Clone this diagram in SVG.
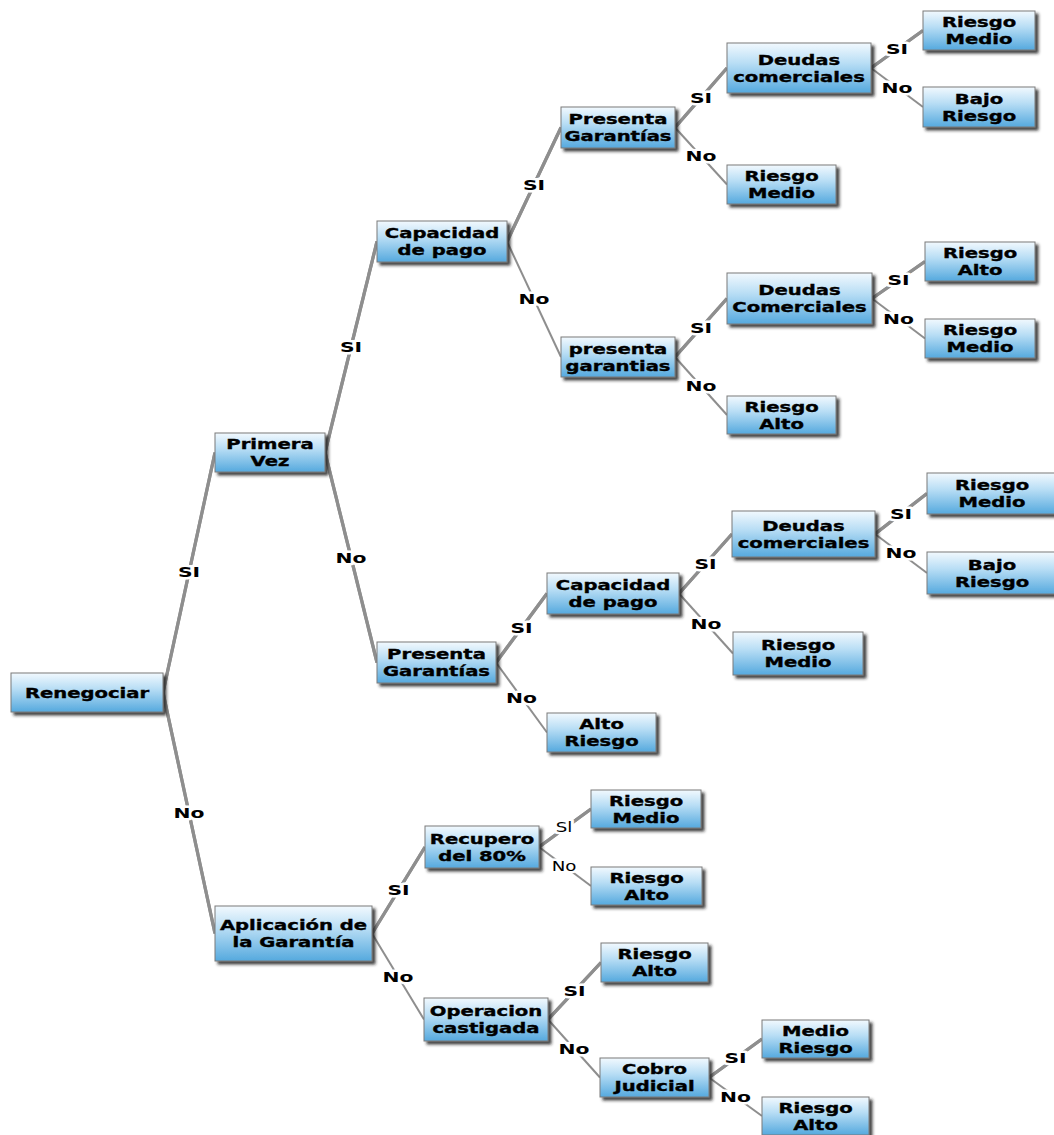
<svg xmlns="http://www.w3.org/2000/svg" xmlns:xlink="http://www.w3.org/1999/xlink" width="1054" height="1135" viewBox="0 0 1054 1135">
  <style>
    .node rect { fill: url(#boxFill); stroke: #7a7a7a; stroke-width: 1; filter: url(#shadow); }
    .node text, .lbl { font-family: "DejaVu Sans", Verdana, sans-serif; font-weight: bold; font-size: 14px; fill: #000; text-anchor: middle; }
    .node text { stroke: #000; stroke-width: 0.35px; }
    .lbl { paint-order: stroke; stroke: #fff; stroke-width: 5px; stroke-linejoin: round; }
    .lbl.reg { font-weight: normal; }
    .edge { fill: none; stroke: #8e8e8e; stroke-width: 3.2; }
    .edge-hl { fill: none; stroke: #ececec; stroke-width: 1; }
    .edge1 { fill: none; stroke: #8e8e8e; stroke-width: 2; }
  </style>
  <defs>
    <linearGradient id="boxFill" x1="0" y1="0" x2="0" y2="1">
      <stop offset="0" stop-color="#f2f9fe"/>
      <stop offset="0.4" stop-color="#b9def5"/>
      <stop offset="1" stop-color="#55a9de"/>
    </linearGradient>
    <filter id="shadow" x="-10%" y="-20%" width="130%" height="160%">
      <feDropShadow dx="3" dy="3" stdDeviation="1.5" flood-color="#222" flood-opacity="0.85"/>
    </filter>
  </defs>

  <rect width="1054" height="1135" fill="#fff"/>

  <!-- connectors: parent right edge middle to child left edge middle -->
  <g id="connectors">
    <!-- double (highlighted) links -->
    <g id="dbl">
      <path id="e1" class="edge" d="M163,692.5 L215,452.5"/>
      <path id="e2" class="edge" d="M163,692.5 L215,933.5"/>
      <path id="e3" class="edge" d="M325,452.5 L377,241.5"/>
      <path id="e4" class="edge" d="M325,452.5 L377,662.5"/>
      <path id="e5" class="edge" d="M507,241.5 L561,127.5"/>
      <path id="e7" class="edge" d="M675,127.5 L727,68"/>
      <path id="e9" class="edge" d="M871,68 L923,30.5"/>
      <path id="e11" class="edge" d="M675,357 L727,298.5"/>
      <path id="e13" class="edge" d="M872,298.5 L925,261.5"/>
      <path id="e15" class="edge" d="M496,662.5 L547,593.5"/>
      <path id="e17" class="edge" d="M679,593.5 L732,534"/>
      <path id="e19" class="edge" d="M875,534 L927,493.5"/>
      <path id="e21" class="edge" d="M372,933.5 L425,847"/>
      <path id="e23" class="edge" d="M539,847 L591,809"/>
      <path id="e25" class="edge" d="M548,1019.5 L601,962.5"/>
      <path id="e27" class="edge" d="M709,1077.5 L762,1039"/>
      <use xlink:href="#e1" class="edge-hl"/>
      <use xlink:href="#e2" class="edge-hl"/>
      <use xlink:href="#e3" class="edge-hl"/>
      <use xlink:href="#e4" class="edge-hl"/>
      <use xlink:href="#e5" class="edge-hl"/>
      <use xlink:href="#e7" class="edge-hl"/>
      <use xlink:href="#e9" class="edge-hl"/>
      <use xlink:href="#e11" class="edge-hl"/>
      <use xlink:href="#e13" class="edge-hl"/>
      <use xlink:href="#e15" class="edge-hl"/>
      <use xlink:href="#e17" class="edge-hl"/>
      <use xlink:href="#e19" class="edge-hl"/>
      <use xlink:href="#e21" class="edge-hl"/>
      <use xlink:href="#e23" class="edge-hl"/>
      <use xlink:href="#e25" class="edge-hl"/>
      <use xlink:href="#e27" class="edge-hl"/>
    </g>
    <!-- plain links -->
    <g id="sgl">
      <path class="edge1" d="M507,241.5 L561,357"/>
      <path class="edge1" d="M675,127.5 L727,184.5"/>
      <path class="edge1" d="M871,68 L923,107"/>
      <path class="edge1" d="M675,357 L727,415"/>
      <path class="edge1" d="M872,298.5 L925,338.5"/>
      <path class="edge1" d="M496,662.5 L547,732.5"/>
      <path class="edge1" d="M679,593.5 L733,653.5"/>
      <path class="edge1" d="M875,534 L927,573"/>
      <path class="edge1" d="M372,933.5 L424,1019.5"/>
      <path class="edge1" d="M539,847 L591,886"/>
      <path class="edge1" d="M548,1019.5 L600,1077.5"/>
      <path class="edge1" d="M709,1077.5 L762,1116"/>
    </g>
    <!-- link labels -->
    <g id="labels">
      <text class="lbl" transform="translate(189,577) scale(1.45,1)">SI</text>
      <text class="lbl" transform="translate(189,818) scale(1.45,1)">No</text>
      <text class="lbl" transform="translate(351,352) scale(1.45,1)">SI</text>
      <text class="lbl" transform="translate(351,562.5) scale(1.45,1)">No</text>
      <text class="lbl" transform="translate(534,189.5) scale(1.45,1)">SI</text>
      <text class="lbl" transform="translate(534,304) scale(1.45,1)">No</text>
      <text class="lbl" transform="translate(701,103) scale(1.45,1)">SI</text>
      <text class="lbl" transform="translate(701,161) scale(1.45,1)">No</text>
      <text class="lbl" transform="translate(897,54) scale(1.45,1)">SI</text>
      <text class="lbl" transform="translate(897,92.5) scale(1.45,1)">No</text>
      <text class="lbl" transform="translate(701,333) scale(1.45,1)">SI</text>
      <text class="lbl" transform="translate(701,391) scale(1.45,1)">No</text>
      <text class="lbl" transform="translate(898.5,285) scale(1.45,1)">SI</text>
      <text class="lbl" transform="translate(898.5,323.5) scale(1.45,1)">No</text>
      <text class="lbl" transform="translate(521.5,633) scale(1.45,1)">SI</text>
      <text class="lbl" transform="translate(521.5,702.5) scale(1.45,1)">No</text>
      <text class="lbl" transform="translate(705.5,569) scale(1.45,1)">SI</text>
      <text class="lbl" transform="translate(706,628.5) scale(1.45,1)">No</text>
      <text class="lbl" transform="translate(901,518.5) scale(1.45,1)">SI</text>
      <text class="lbl" transform="translate(901,558) scale(1.45,1)">No</text>
      <text class="lbl" transform="translate(398.5,895) scale(1.45,1)">SI</text>
      <text class="lbl" transform="translate(398,981.5) scale(1.45,1)">No</text>
      <text class="lbl reg" transform="translate(564,832) scale(1.3,1)">Sl</text>
      <text class="lbl reg" transform="translate(564,870.5) scale(1.3,1)">No</text>
      <text class="lbl" transform="translate(574.5,996) scale(1.45,1)">SI</text>
      <text class="lbl" transform="translate(574,1053.5) scale(1.45,1)">No</text>
      <text class="lbl" transform="translate(735.5,1063) scale(1.45,1)">SI</text>
      <text class="lbl" transform="translate(735.5,1102) scale(1.45,1)">No</text>
    </g>
  </g>

  <!-- nodes -->
  <g id="n1" class="node"><rect x="11" y="673" width="152" height="39"/>
    <text transform="translate(87,697.5) scale(1.4,1)">Renegociar</text></g>
  <g id="n2" class="node"><rect x="215" y="433" width="110" height="39"/>
    <text transform="translate(270,0) scale(1.4,1)"><tspan x="0" y="449.5">Primera</tspan><tspan x="0" y="466.5">Vez</tspan></text></g>
  <g id="n3" class="node"><rect x="377" y="221" width="130" height="41"/>
    <text transform="translate(442,0) scale(1.4,1)"><tspan x="0" y="238.5">Capacidad</tspan><tspan x="0" y="255.5">de pago</tspan></text></g>
  <g id="n4" class="node"><rect x="561" y="107" width="114" height="41"/>
    <text transform="translate(618,0) scale(1.4,1)"><tspan x="0" y="124.5">Presenta</tspan><tspan x="0" y="141.5">Garantías</tspan></text></g>
  <g id="n5" class="node"><rect x="727" y="43" width="144" height="50"/>
    <text transform="translate(799,0) scale(1.4,1)"><tspan x="0" y="65">Deudas</tspan><tspan x="0" y="82">comerciales</tspan></text></g>
  <g id="n6" class="node"><rect x="923" y="11" width="112" height="39"/>
    <text transform="translate(979,0) scale(1.4,1)"><tspan x="0" y="27.5">Riesgo</tspan><tspan x="0" y="44.5">Medio</tspan></text></g>
  <g id="n7" class="node"><rect x="923" y="87" width="112" height="40"/>
    <text transform="translate(979,0) scale(1.4,1)"><tspan x="0" y="104">Bajo</tspan><tspan x="0" y="121">Riesgo</tspan></text></g>
  <g id="n8" class="node"><rect x="727" y="165" width="109" height="39"/>
    <text transform="translate(781.5,0) scale(1.4,1)"><tspan x="0" y="181.5">Riesgo</tspan><tspan x="0" y="198.5">Medio</tspan></text></g>
  <g id="n9" class="node"><rect x="561" y="337" width="114" height="40"/>
    <text transform="translate(618,0) scale(1.4,1)"><tspan x="0" y="354">presenta</tspan><tspan x="0" y="371">garantias</tspan></text></g>
  <g id="n10" class="node"><rect x="727" y="273" width="145" height="51"/>
    <text transform="translate(799.5,0) scale(1.4,1)"><tspan x="0" y="295.5">Deudas</tspan><tspan x="0" y="312.5">Comerciales</tspan></text></g>
  <g id="n11" class="node"><rect x="925" y="242" width="110" height="39"/>
    <text transform="translate(980,0) scale(1.4,1)"><tspan x="0" y="258.5">Riesgo</tspan><tspan x="0" y="275.5">Alto</tspan></text></g>
  <g id="n12" class="node"><rect x="925" y="319" width="110" height="39"/>
    <text transform="translate(980,0) scale(1.4,1)"><tspan x="0" y="335.5">Riesgo</tspan><tspan x="0" y="352.5">Medio</tspan></text></g>
  <g id="n13" class="node"><rect x="727" y="396" width="109" height="38"/>
    <text transform="translate(781.5,0) scale(1.4,1)"><tspan x="0" y="412">Riesgo</tspan><tspan x="0" y="429">Alto</tspan></text></g>
  <g id="n14" class="node"><rect x="377" y="642" width="119" height="41"/>
    <text transform="translate(436.5,0) scale(1.4,1)"><tspan x="0" y="659.5">Presenta</tspan><tspan x="0" y="676.5">Garantías</tspan></text></g>
  <g id="n15" class="node"><rect x="547" y="573" width="132" height="41"/>
    <text transform="translate(613,0) scale(1.4,1)"><tspan x="0" y="590.5">Capacidad</tspan><tspan x="0" y="607.5">de pago</tspan></text></g>
  <g id="n16" class="node"><rect x="732" y="511" width="143" height="46"/>
    <text transform="translate(803.5,0) scale(1.4,1)"><tspan x="0" y="531">Deudas</tspan><tspan x="0" y="548">comerciales</tspan></text></g>
  <g id="n17" class="node"><rect x="927" y="473" width="130" height="41"/>
    <text transform="translate(992,0) scale(1.4,1)"><tspan x="0" y="490.5">Riesgo</tspan><tspan x="0" y="507.5">Medio</tspan></text></g>
  <g id="n18" class="node"><rect x="927" y="552" width="130" height="42"/>
    <text transform="translate(992,0) scale(1.4,1)"><tspan x="0" y="570">Bajo</tspan><tspan x="0" y="587">Riesgo</tspan></text></g>
  <g id="n19" class="node"><rect x="733" y="632" width="130" height="43"/>
    <text transform="translate(798,0) scale(1.4,1)"><tspan x="0" y="650.5">Riesgo</tspan><tspan x="0" y="667.5">Medio</tspan></text></g>
  <g id="n20" class="node"><rect x="547" y="713" width="109" height="39"/>
    <text transform="translate(601.5,0) scale(1.4,1)"><tspan x="0" y="729.5">Alto</tspan><tspan x="0" y="746.5">Riesgo</tspan></text></g>
  <g id="n21" class="node"><rect x="215" y="906" width="157" height="55"/>
    <text transform="translate(293.5,0) scale(1.4,1)"><tspan x="0" y="930.5">Aplicación de</tspan><tspan x="0" y="947.5">la Garantía</tspan></text></g>
  <g id="n22" class="node"><rect x="425" y="826" width="114" height="42"/>
    <text transform="translate(482,0) scale(1.4,1)"><tspan x="0" y="844">Recupero</tspan><tspan x="0" y="861">del 80%</tspan></text></g>
  <g id="n23" class="node"><rect x="591" y="790" width="110" height="38"/>
    <text transform="translate(646,0) scale(1.4,1)"><tspan x="0" y="806">Riesgo</tspan><tspan x="0" y="823">Medio</tspan></text></g>
  <g id="n24" class="node"><rect x="591" y="867" width="111" height="38"/>
    <text transform="translate(646.5,0) scale(1.4,1)"><tspan x="0" y="883">Riesgo</tspan><tspan x="0" y="900">Alto</tspan></text></g>
  <g id="n25" class="node"><rect x="424" y="998" width="124" height="43"/>
    <text transform="translate(486,0) scale(1.4,1)"><tspan x="0" y="1016.5">Operacion</tspan><tspan x="0" y="1033.5">castigada</tspan></text></g>
  <g id="n26" class="node"><rect x="601" y="943" width="107" height="39"/>
    <text transform="translate(654.5,0) scale(1.4,1)"><tspan x="0" y="959.5">Riesgo</tspan><tspan x="0" y="976.5">Alto</tspan></text></g>
  <g id="n27" class="node"><rect x="600" y="1058" width="109" height="39"/>
    <text transform="translate(654.5,0) scale(1.4,1)"><tspan x="0" y="1074.5">Cobro</tspan><tspan x="0" y="1091.5">Judicial</tspan></text></g>
  <g id="n28" class="node"><rect x="762" y="1020" width="107" height="38"/>
    <text transform="translate(815.5,0) scale(1.4,1)"><tspan x="0" y="1036">Medio</tspan><tspan x="0" y="1053">Riesgo</tspan></text></g>
  <g id="n29" class="node"><rect x="762" y="1097" width="107" height="38"/>
    <text transform="translate(815.5,0) scale(1.4,1)"><tspan x="0" y="1113">Riesgo</tspan><tspan x="0" y="1130">Alto</tspan></text></g>
</svg>
